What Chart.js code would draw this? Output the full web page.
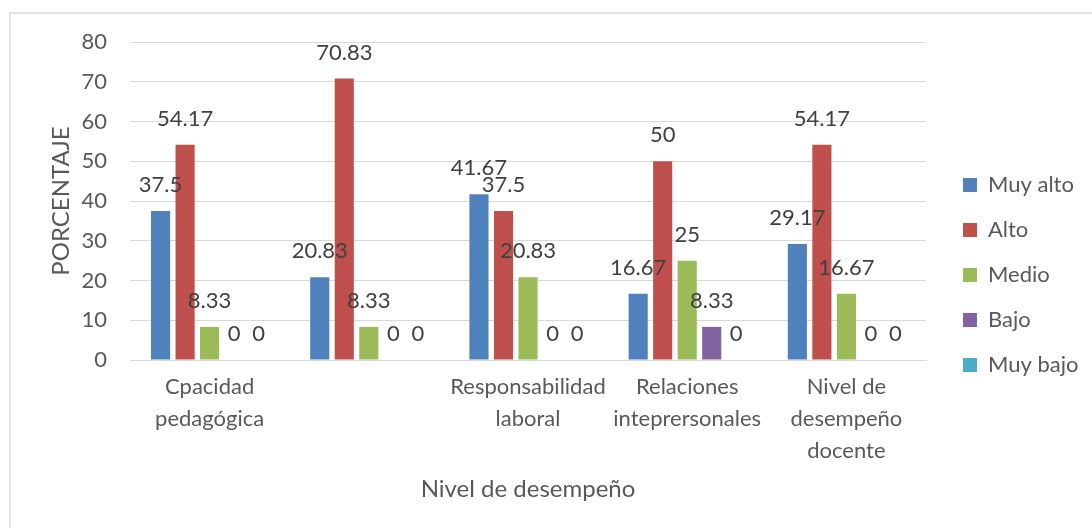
<!DOCTYPE html>
<html>
<head>
<meta charset="utf-8">
<script src="https://cdn.jsdelivr.net/npm/chart.js@4/dist/chart.umd.min.js"></script>
<style>
  html, body { margin: 0; padding: 0; background: #ffffff; overflow: hidden; }
  #frame { position: absolute; left: 9px; top: 12px; width: 1100px; height: 540px; border: 2px solid #e3e3e3; box-sizing: border-box; }
  #wrap { position: absolute; left: 10px; top: 13px; width: 1082px; height: 515px; }
</style>
</head>
<body>
<div id="frame"></div>
<div id="wrap"><canvas id="c"></canvas></div>
<script>
const categories = [
  ["Cpacidad", "pedagógica"],
  "",
  ["Responsabilidad", "laboral"],
  ["Relaciones", "inteprersonales"],
  ["Nivel de", "desempeño", "docente"]
];
const seriesNames = ["Muy alto", "Alto", "Medio", "Bajo", "Muy bajo"];
const muyAlto = [37.5, 20.83, 41.67, 16.67, 29.17];
const alto    = [54.17, 70.83, 37.5, 50, 54.17];
const medio   = [8.33, 8.33, 20.83, 25, 16.67];
const bajo    = [0, 0, 0, 8.33, 0];
const muyBajo = [0, 0, 0, 0, 0];
const yTicks = [0, 10, 20, 30, 40, 50, 60, 70, 80];
const colors = ["#4F81BD", "#C0504D", "#9BBB59", "#8064A2", "#4BACC6"];

const FONT = "Lato";
const FS = 22;
const TITLE_FS = 24;
const LEGEND_W = 166;
const LEGEND_DX = 14;
const LEGEND_DY = -10;

const legendPlace = {
  id: 'legendPlace',
  beforeLayout(chart) {
    const lg = chart.legend;
    if (lg && !lg._patched) {
      const f = lg.fit;
      lg.fit = function () { f.call(this); this.width = LEGEND_W; };
      lg._patched = true;
    }
  },
  afterLayout(chart) {
    const lg = chart.legend;
    if (lg) {
      lg.left = chart.chartArea.right + LEGEND_DX;
      lg.top += LEGEND_DY; lg.bottom += LEGEND_DY;
    }
  }
};

const valueLabels = {
  id: 'valueLabels',
  afterDatasetsDraw(chart) {
    const ctx = chart.ctx;
    ctx.save();
    ctx.font = FS + "px " + FONT;
    ctx.fillStyle = "#404040";
    ctx.textAlign = "center";
    ctx.textBaseline = "middle";
    chart.data.datasets.forEach((ds, di) => {
      const meta = chart.getDatasetMeta(di);
      meta.data.forEach((el, i) => {
        ctx.fillText(String(ds.data[i]), el.x, el.y - 26);
      });
    });
    ctx.restore();
  }
};

const seriesData = [muyAlto, alto, medio, bajo, muyBajo];

new Chart(document.getElementById('c'), {
  type: 'bar',
  data: {
    labels: categories,
    datasets: seriesNames.map((n, i) => ({
      label: n,
      data: seriesData[i],
      backgroundColor: colors[i],
      borderWidth: 0,
      categoryPercentage: 0.77,
      barPercentage: 0.78
    }))
  },
  options: {
    responsive: true,
    maintainAspectRatio: false,
    animation: false,
    layout: { padding: { top: 29, left: 0, right: 0, bottom: 0 } },
    plugins: {
      tooltip: { enabled: false },
      legend: {
        position: 'right',
        labels: {
          font: { family: FONT, size: FS },
          color: "#595959",
          boxWidth: 14,
          boxHeight: 14,
          padding: 23
        }
      }
    },
    scales: {
      x: {
        grid: { display: false, drawTicks: false },
        border: { display: true, color: "#d9d9d9", width: 1 },
        ticks: {
          font: { family: FONT, size: FS, lineHeight: 1.45 },
          color: "#595959",
          maxRotation: 0,
          autoSkip: false,
          padding: 11
        },
        title: {
          display: true,
          text: "Nivel de desempeño",
          font: { family: FONT, size: TITLE_FS },
          color: "#595959",
          padding: { top: 0, bottom: 24 }
        },
        afterFit(scale) { scale.height = 168; }
      },
      y: {
        min: 0,
        max: 80,
        afterBuildTicks(scale) { scale.ticks = yTicks.map(v => ({ value: v })); },
        grid: { color: "#d9d9d9", lineWidth: 1, drawTicks: false },
        border: { display: false },
        ticks: {
          font: { family: FONT, size: FS },
          color: "#595959",
          padding: 23
        },
        title: {
          display: true,
          text: "PORCENTAJE",
          font: { family: FONT, size: TITLE_FS },
          color: "#595959",
          padding: { top: 37, bottom: 0 }
        },
        afterFit(scale) {
          scale.width = 120;
          scale.paddingTop = 0;
          scale.paddingBottom = 0;
        }
      }
    }
  },
  plugins: [legendPlace, valueLabels]
});
</script>
</body>
</html>
